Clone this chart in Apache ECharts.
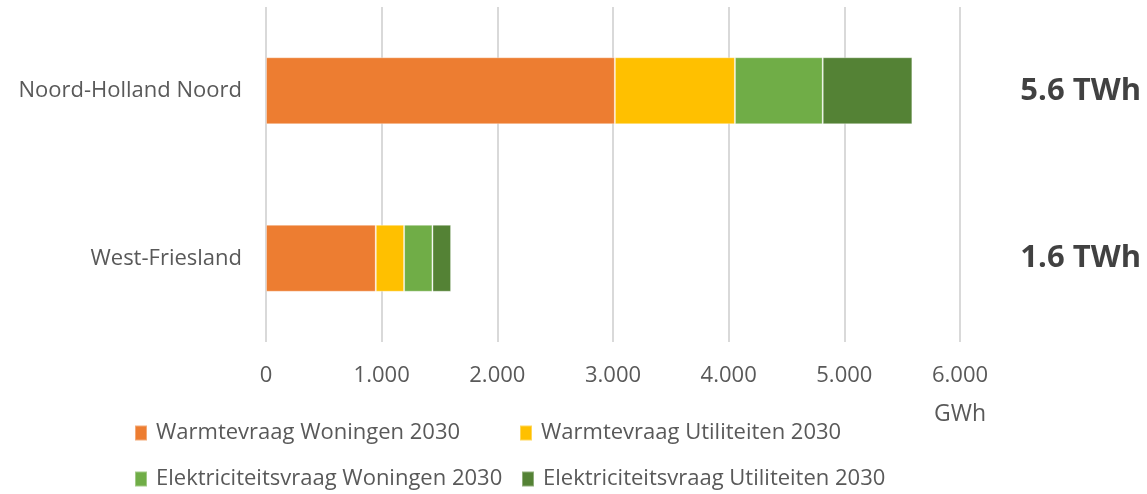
<!DOCTYPE html>
<html><head><meta charset="utf-8">
<script src="https://cdn.jsdelivr.net/npm/echarts@6/dist/echarts.min.js"></script>
<style>html,body{margin:0;padding:0;background:#fff}#c{width:1147px;height:494px}</style>
</head><body><div id="c"></div>
<script>
const categories = ['West-Friesland', 'Noord-Holland Noord'];
const seriesNames = ['Warmtevraag Woningen 2030', 'Warmtevraag Utiliteiten 2030', 'Elektriciteitsvraag Woningen 2030', 'Elektriciteitsvraag Utiliteiten 2030'];
const warmteWoningen = [949, 3016];
const warmteUtiliteiten = [245, 1038];
const elekWoningen = [245, 759];
const elekUtiliteiten = [161, 775];
const totals = ['1.6 TWh', '5.6 TWh'];
const colors = ['#ED7D31', '#FFC000', '#70AD47', '#548235'];

const chart = echarts.init(document.getElementById('c'), null, {renderer: 'canvas'});
const dataSets = [warmteWoningen, warmteUtiliteiten, elekWoningen, elekUtiliteiten];
const font = '"Open Sans", "Noto Sans", sans-serif';
const legendPos = [[134, 422], [519, 422], [134, 468], [521, 468]];
chart.setOption({
  animation: false,
  grid: {left: 266, right: 187, top: 7, height: 335, containLabel: false},
  xAxis: {
    type: 'value', min: 0, max: 6000, interval: 1000,
    axisLine: {show: false}, axisTick: {show: false},
    splitLine: {lineStyle: {color: '#d9d9d9', width: 2}},
    axisLabel: {color: '#595959', fontSize: 22, fontFamily: font, margin: 23,
      formatter: v => v === 0 ? '0' : String(v).replace(/\B(?=(\d{3})+(?!\d))/g, '.')}
  },
  yAxis: {
    type: 'category', data: categories,
    axisLine: {show: false}, axisTick: {show: false},
    axisLabel: {color: '#595959', fontSize: 22, fontFamily: font, margin: 24}
  },
  legend: seriesNames.map((n, i) => ({
    data: [n], left: legendPos[i][0], top: legendPos[i][1], padding: 0,
    itemWidth: 12, itemHeight: 15, icon: 'rect',
    textStyle: {color: '#595959', fontSize: 22, fontFamily: font, padding: [0, 0, 0, 4]}
  })),
  graphic: [
    {type: 'text', left: 934, top: 403, style: {text: 'GWh', fill: '#595959', font: '23px ' + font}}
  ],
  series: dataSets.map((d, i) => ({
    name: seriesNames[i], type: 'bar', stack: 'tot', data: d, barWidth: 67,
    itemStyle: {color: colors[i], borderColor: 'rgba(255,255,255,0.35)', borderWidth: 1}
  })).concat([{
    type: 'scatter', data: categories.map((c, i) => [6000, c]), symbolSize: 0, silent: true,
    label: {show: true, position: 'right', distance: 0,
      formatter: p => totals[p.dataIndex], color: '#111', fontWeight: 'bold', fontSize: 31, fontFamily: font,
      align: 'right'}
  }])
});
const px = chart.convertToPixel({xAxisIndex: 0}, 6000);
chart.setOption({series: [{}, {}, {}, {}, {label: {offset: [1141 - px, 0]}}]});
</script></body></html>
